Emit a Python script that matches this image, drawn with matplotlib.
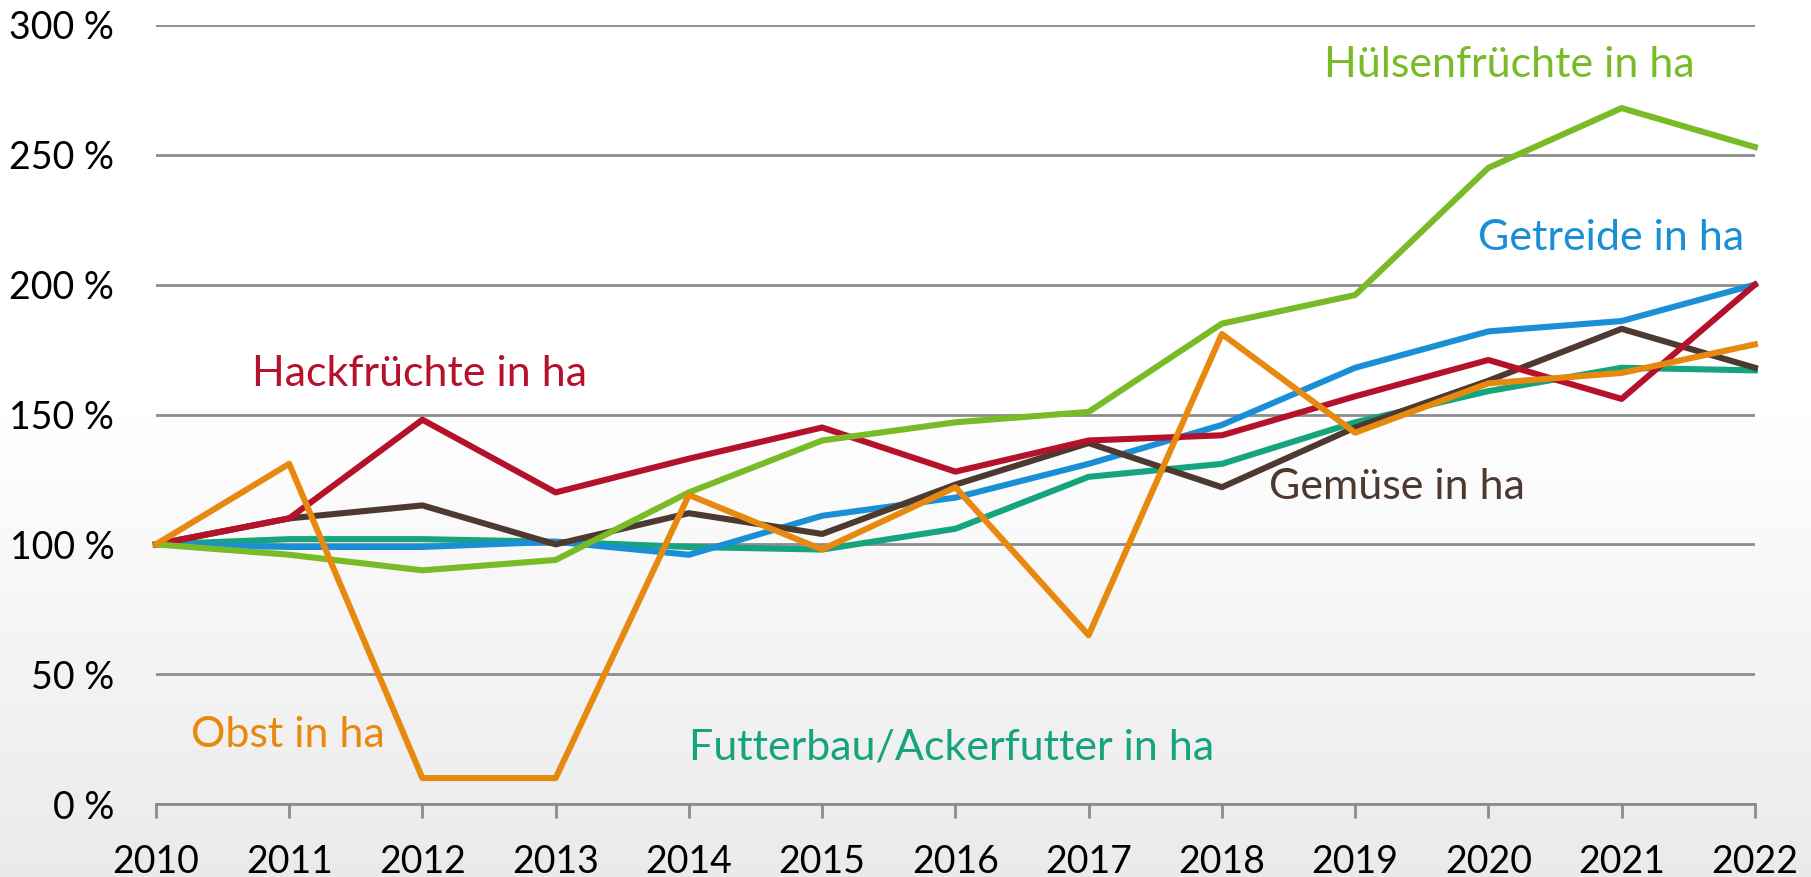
import numpy as np
import matplotlib
matplotlib.use('Agg')
import matplotlib.pyplot as plt

plt.rcParams['font.family'] = ['Lato', 'DejaVu Sans']

jahre = list(range(2010, 2023))

huelsen = [100, 96, 90, 94, 120, 140, 147, 151, 185, 196, 245, 268, 253]
getreide = [100, 99, 99, 101, 96, 111, 118, 131, 146, 168, 182, 186, 200]
hack = [100, 110, 148, 120, 133, 145, 128, 140, 142, 157, 171, 156, 200]
gemuese = [100, 110, 115, 100, 112, 104, 123, 139, 122, 145, 163, 183, 168]
futter = [100, 102, 102, 101, 99, 98, 106, 126, 131, 147, 159, 168, 167]
obst = [100, 131, 10, 10, 119, 98, 122, 65, 181, 143, 162, 166, 177]

y_ticks = [0, 50, 100, 150, 200, 250, 300]

# name, werte, farbe, label-position (x links, y mitte)
reihen = [
    ('Futterbau/Ackerfutter in ha', futter, '#16a47e', 2014.0, 21.8),
    ('Getreide in ha', getreide, '#1b8fd5', 2019.92, 218),
    ('Gemüse in ha', gemuese, '#4e3930', 2018.35, 122),
    ('Hackfrüchte in ha', hack, '#b5112b', 2010.72, 165.6),
    ('Hülsenfrüchte in ha', huelsen, '#79bb27', 2018.77, 284.5),
    ('Obst in ha', obst, '#e8890f', 2010.26, 26.7),
]

fig = plt.figure(figsize=(18.11, 8.77), dpi=100)

# hintergrund mit leichtem verlauf
bg = fig.add_axes([0, 0, 1, 1], zorder=-10)
grad = np.ones((200, 1))
t = np.linspace(0, 1, 200)
grad[:, 0] = np.where(t < 0.45, 1.0, 1.0 - (t - 0.45) / 0.55 * 0.085)
bg.imshow(grad, aspect='auto', cmap='gray', vmin=0, vmax=1, extent=[0, 1, 0, 1])
bg.axis('off')

ax = fig.add_axes([0.0861, 0.0832, 0.8829, 0.8883])
ax.patch.set_alpha(0)

for name, werte, farbe, lx, ly in reihen:
    ax.plot(jahre, werte, color=farbe, lw=4.4, clip_on=False, zorder=3)
    ax.text(lx, ly, name, color=farbe, fontsize=31, va='center', ha='left')

ax.set_xlim(2010, 2022)
ax.set_ylim(0, 300)
ax.set_xticks(jahre)
ax.set_xticklabels([str(j) for j in jahre])
ax.set_yticks(y_ticks)
ax.set_yticklabels([f'{v} %' for v in y_ticks])
ax.yaxis.grid(True, color='#8c8c8c', lw=2)
ax.set_axisbelow(True)
for s in ['top', 'right', 'left']:
    ax.spines[s].set_visible(False)
ax.spines['bottom'].set_color('#8c8c8c')
ax.spines['bottom'].set_linewidth(2)
ax.tick_params(axis='x', length=10, width=2, color='#8c8c8c', labelsize=27, pad=19)
ax.tick_params(axis='y', length=0, labelsize=27, pad=30)

fig.savefig('out.png', dpi=100)
